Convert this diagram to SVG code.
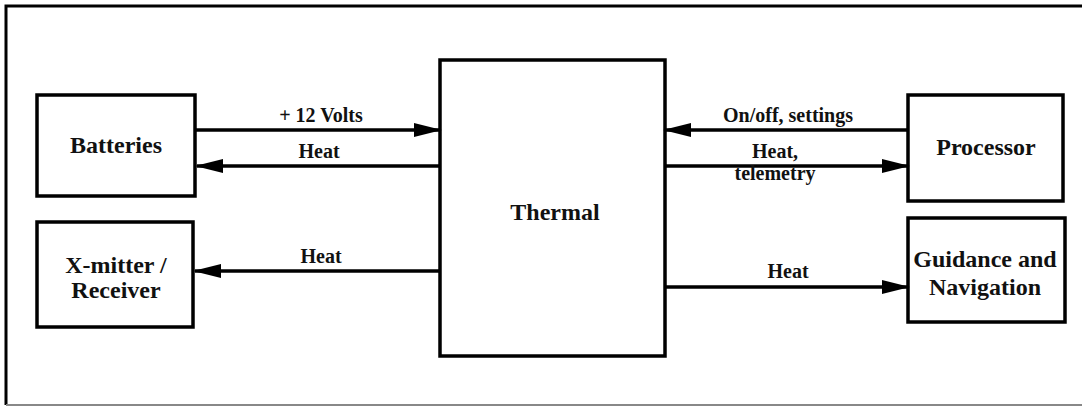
<svg xmlns="http://www.w3.org/2000/svg" width="1082" height="406" viewBox="0 0 1082 406">
<style>
.box{fill:#fff;stroke:#000;stroke-width:3.5}
.nt{font-family:"Liberation Serif","Times New Roman",serif;font-weight:bold;font-size:24px;fill:#111;text-anchor:middle}
.lt{font-family:"Liberation Serif","Times New Roman",serif;font-weight:bold;font-size:20px;fill:#111;text-anchor:middle}
.cn{stroke:#000;stroke-width:3.5;fill:none;marker-end:url(#ah)}
</style>
<defs>
<marker id="ah" markerUnits="userSpaceOnUse" markerWidth="28" markerHeight="14" viewBox="0 0 28 14" refX="26" refY="7" orient="auto">
<path d="M0,0 L28,7 L0,14 z" fill="#000"/>
</marker>
</defs>
<rect width="1082" height="406" fill="#fff"/>
<g id="frame">
<path d="M6,405 L6,6 L1082,6" fill="none" stroke="#000" stroke-width="3"/>
<line x1="6" y1="405" x2="1082" y2="405" stroke="#888" stroke-width="2"/>
</g>
<g id="batteries"><rect class="box" x="37" y="95" width="158" height="101"/><text class="nt" x="116" y="153">Batteries</text></g>
<g id="xmitter"><rect class="box" x="37" y="222" width="156" height="105"/><text class="nt" x="116" y="273">X-mitter /</text><text class="nt" x="116" y="298">Receiver</text></g>
<g id="thermal"><rect class="box" x="440" y="60" width="225" height="296"/><text class="nt" x="555" y="220">Thermal</text></g>
<g id="processor"><rect class="box" x="908" y="95" width="155" height="106"/><text class="nt" x="986" y="155">Processor</text></g>
<g id="guidance"><rect class="box" x="908" y="218" width="157" height="104"/><text class="nt" x="985" y="267">Guidance and</text><text class="nt" x="985" y="295">Navigation</text></g>
<g id="connectors">
<line class="cn" x1="195" y1="130" x2="440" y2="130"/>
<line class="cn" x1="440" y1="166" x2="197" y2="166"/>
<line class="cn" x1="440" y1="271" x2="195" y2="271"/>
<line class="cn" x1="908" y1="130" x2="665" y2="130"/>
<line class="cn" x1="665" y1="166" x2="908" y2="166"/>
<line class="cn" x1="665" y1="287" x2="908" y2="287"/>
<text class="lt" x="321" y="122">+ 12 Volts</text>
<text class="lt" x="319" y="158">Heat</text>
<text class="lt" x="321" y="263">Heat</text>
<text class="lt" x="788" y="122">On/off, settings</text>
<text class="lt" x="775" y="158">Heat,</text>
<text class="lt" x="775" y="180">telemetry</text>
<text class="lt" x="788" y="278">Heat</text>
</g>
</svg>
